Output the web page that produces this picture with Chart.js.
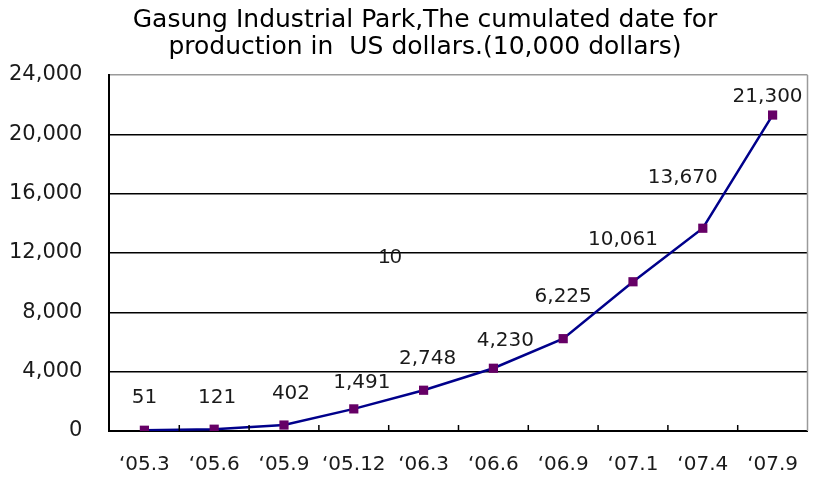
<!DOCTYPE html>
<html lang="en">
<head>
    <meta charset="UTF-8">
    <title>Gasung Industrial Park</title>
    <script src="https://cdn.jsdelivr.net/npm/chart.js"></script>
    <style>
        html, body { margin: 0; padding: 0; background: #fff; }
        #chart_container { width: 814px; height: 478px; }
    </style>
</head>
<body>
    <div id="chart_container">
        <canvas id="chart"></canvas>
    </div>

    <script>
        // data
        const PERIODS = ['\u201805.3', '\u201805.6', '\u201805.9', '\u201805.12', '\u201806.3',
                         '\u201806.6', '\u201806.9', '\u201807.1', '\u201807.4', '\u201807.9']
        const PRODUCTION = [51, 121, 402, 1491, 2748, 4230, 6225, 10061, 13670, 21300]
        const Y_TICKS = [0, 4000, 8000, 12000, 16000, 20000, 24000]
        const TITLE_LINES = ['Gasung Industrial Park,The cumulated date for',
                             'production in  US dollars.(10,000 dollars)']

        // label nudges (px) so value labels sit where they do in the original
        const LABEL_DX = [0, 3, 7, 8, 4, 12, 0, -10, -20, -5]
        const LABEL_DY = [-32, -31, -31, -26, -31, -27, -42, -42, -50, -18]

        const FONT = 'DejaVu Sans'

        const decoPlugin = {
            id: 'deco',
            afterDraw(chart) {
                const ctx = chart.ctx
                const area = chart.chartArea
                const x = chart.scales.x
                const y = chart.scales.y
                ctx.save()

                // title, sits a little right of the canvas centre like the original
                ctx.fillStyle = '#000'
                ctx.font = '25px "' + FONT + '"'
                ctx.textAlign = 'center'
                ctx.textBaseline = 'middle'
                TITLE_LINES.forEach((t, i) => ctx.fillText(t, chart.width / 2 + 18, 20 + i * 27))

                // right border, grey like the top one
                ctx.strokeStyle = '#9a9a9a'
                ctx.lineWidth = 1.5
                ctx.beginPath()
                ctx.moveTo(area.right, area.top)
                ctx.lineTo(area.right, area.bottom)
                ctx.stroke()

                // small tick marks pointing inwards, between categories
                ctx.strokeStyle = '#000'
                ctx.lineWidth = 1.5
                for (let i = 1; i < PERIODS.length; i++) {
                    const px = (x.getPixelForTick(i - 1) + x.getPixelForTick(i)) / 2
                    ctx.beginPath()
                    ctx.moveTo(px, area.bottom)
                    ctx.lineTo(px, area.bottom - 6)
                    ctx.stroke()
                }

                // value labels
                const meta = chart.getDatasetMeta(0)
                ctx.fillStyle = '#1a1a1a'
                ctx.font = '20px "' + FONT + '"'
                meta.data.forEach((pt, i) => {
                    ctx.fillText(PRODUCTION[i].toLocaleString('en-US'), pt.x + LABEL_DX[i], pt.y + LABEL_DY[i])
                })

                // stray "10" left in the original plot
                ctx.font = '21px "Liberation Sans Narrow", "Liberation Sans"'
                ctx.fillText('10', x.getPixelForValue(3.52), y.getPixelForValue(11700))
                ctx.restore()
            }
        }

        new Chart(document.getElementById('chart'), {
            type: 'line',
            data: {
                labels: PERIODS,
                datasets: [{
                    data: PRODUCTION,
                    borderColor: '#00008b',
                    borderWidth: 2.5,
                    pointStyle: 'rect',
                    pointRadius: 6.5,
                    pointBackgroundColor: '#660066',
                    pointBorderColor: '#660066',
                    pointBorderWidth: 0,
                    tension: 0
                }]
            },
            options: {
                responsive: true,
                maintainAspectRatio: false,
                animation: false,
                layout: { padding: { left: -18, right: -8, top: 75, bottom: -21 } },
                plugins: {
                    legend: { display: false },
                    tooltip: { enabled: false },
                    title: { display: false }
                },
                scales: {
                    x: {
                        offset: true,
                        // labels never overhang here, so drop the side padding chart.js adds
                        afterFit: s => { s.paddingLeft = 0; s.paddingRight = 0 },
                        grid: { display: false, drawTicks: false },
                        border: { color: '#000', width: 2 },
                        ticks: {
                            color: '#1a1a1a',
                            font: { family: FONT, size: 20 },
                            padding: 22,
                            maxRotation: 0,
                            autoSkip: false
                        }
                    },
                    y: {
                        min: Y_TICKS[0],
                        max: Y_TICKS[Y_TICKS.length - 1],
                        afterBuildTicks: scale => { scale.ticks = Y_TICKS.map(v => ({ value: v })) },
                        grid: {
                            drawTicks: false,
                            lineWidth: 1.5,
                            color: c => c.tick && c.tick.value === 24000 ? '#9a9a9a' : '#000'
                        },
                        border: { color: '#000', width: 2 },
                        ticks: {
                            color: '#1a1a1a',
                            font: { family: FONT, size: 21 },
                            padding: 27,
                            callback: v => v.toLocaleString('en-US')
                        }
                    }
                }
            },
            plugins: [decoPlugin]
        })
    </script>
</body>
</html>
